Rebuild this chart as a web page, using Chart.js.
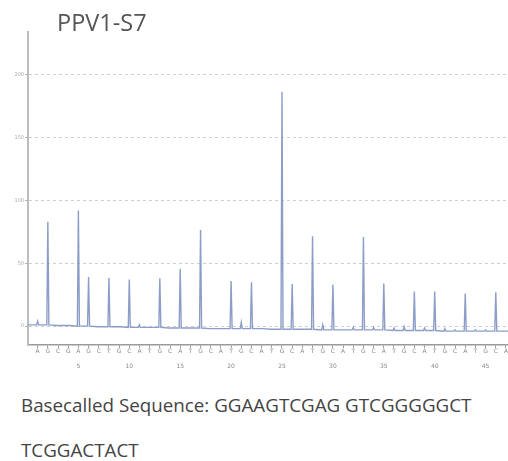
<!DOCTYPE html>
<html>
<head>
<meta charset="utf-8">
<script src="https://cdn.jsdelivr.net/npm/chart.js@4.4.1/dist/chart.umd.min.js"></script>
<style>
  html, body { margin: 0; padding: 0; background: #fff; width: 508px; height: 461px; overflow: hidden; }
  #wrap { position: relative; width: 508px; height: 461px; }
  #c { position: absolute; left: 0; top: 0; }
  .title { position: absolute; left: 57px; top: 6px; font-family: "Open Sans", sans-serif; font-size: 23.5px; color: #555; white-space: nowrap; }
  .seq { position: absolute; left: 21px; font-family: "Open Sans", sans-serif; font-size: 18.8px; color: #444; white-space: nowrap; }
</style>
</head>
<body>
<div id="wrap">
  <canvas id="c" width="508" height="380"></canvas>
  <div class="title">PPV1-S7</div>
  <div class="seq" style="top:392px">Basecalled Sequence: GGAAGTCGAG GTCGGGGGCT</div>
  <div class="seq" style="top:437px">TCGGACTACT</div>
</div>
<script>
// Dispensation order (one letter per dispensation position 1..47)
const dispensation = ["A","G","C","G","A","G","C","T",
  "G","C","A","T","G","C","A","T","G","C","A","T","G","C","A","T",
  "G","C","A","T","G","C","A","T","G","C","A","T","G","C","A","T",
  "G","C","A","T","G","C","A"];
// Peak signal above baseline at each dispensation
const signal = [3,82,0,0,92,39,0,39,0,38,2,0,39,0,47,0,78,0,0,38,
  5,37,0,0,189,36,0,74,4,36,0,2,74,2,37,2,3,31,2,31,
  2,1,30,1,1,31,0];
// Baseline level at each dispensation (slight downward drift)
const baseline = [1,1,0.5,0.5,0,0,-0.5,-0.5,-0.5,-1,-1,-1,-1,-1.5,-1.5,-1.5,-1.5,-2,-2,-2,
  -2,-2,-2,-2.5,-2.5,-2.5,-2.5,-2.5,-3,-3,-3,-3,-3,-3,-3,-3.5,-3.5,-3.5,-3.5,-3.5,
  -4,-4,-4,-4,-4,-4,-4];
const yTicks = [0, 50, 100, 150, 200];
const numberLabels = [5, 10, 15, 20, 25, 30, 35, 40, 45];

const xMin = 0.05, xMax = 47.2, halfWidth = 0.1;

// Build the trace points from the arrays
const trace = [{x: xMin, y: baseline[0]}];
dispensation.forEach((d, i) => {
  const p = i + 1;
  trace.push({x: p - halfWidth, y: baseline[i]});
  trace.push({x: p, y: baseline[i] + signal[i]});
  trace.push({x: p + halfWidth, y: baseline[i]});
});
trace.push({x: xMax, y: baseline[baseline.length - 1]});

new Chart(document.getElementById('c'), {
  type: 'line',
  data: {
    datasets: [{
      data: trace,
      borderColor: 'rgba(128,148,194,0.9)',
      borderWidth: 1.4,
      pointRadius: 0,
      tension: 0,
      fill: false
    }]
  },
  options: {
    responsive: false,
    animation: false,
    devicePixelRatio: 1,
    layout: { padding: { top: 32, right: 0, bottom: 5, left: 0 } },
    plugins: { legend: { display: false }, tooltip: { enabled: false }, title: { display: false } },
    scales: {
      x: {
        type: 'linear',
        min: xMin,
        max: xMax,
        afterBuildTicks: (scale) => { scale.ticks = dispensation.map((d, i) => ({value: i + 1})); },
        afterFit: (scale) => { scale.height = 30; scale.paddingLeft = 0; scale.paddingRight = 0; },
        ticks: {
          autoSkip: false,
          maxRotation: 0,
          padding: -4,
          color: '#8a8a8a',
          font: { family: 'DejaVu Sans', size: 6, lineHeight: 2.5 },
          callback: (v) => [dispensation[v - 1], numberLabels.includes(v) ? String(v) : '']
        },
        grid: { drawOnChartArea: false, tickLength: 3, color: '#9a9a9a', tickWidth: 1 },
        border: { display: true, color: '#9a9a9a', width: 1.5 }
      },
      y: {
        type: 'linear',
        min: -15,
        max: 234,
        afterBuildTicks: (scale) => { scale.ticks = yTicks.map(v => ({value: v})); },
        afterFit: (scale) => { scale.width = 28; },
        ticks: {
          padding: 1,
          color: '#a8a8a8',
          font: { family: 'DejaVu Sans', size: 5 }
        },
        grid: { color: '#cfcfcf', lineWidth: 1, tickLength: 3, tickColor: '#b0b0b0', tickBorderDash: [] },
        border: { display: true, color: '#bcbcbc', width: 2, dash: [3, 3] }
      }
    }
  }
});
</script>
</body>
</html>
